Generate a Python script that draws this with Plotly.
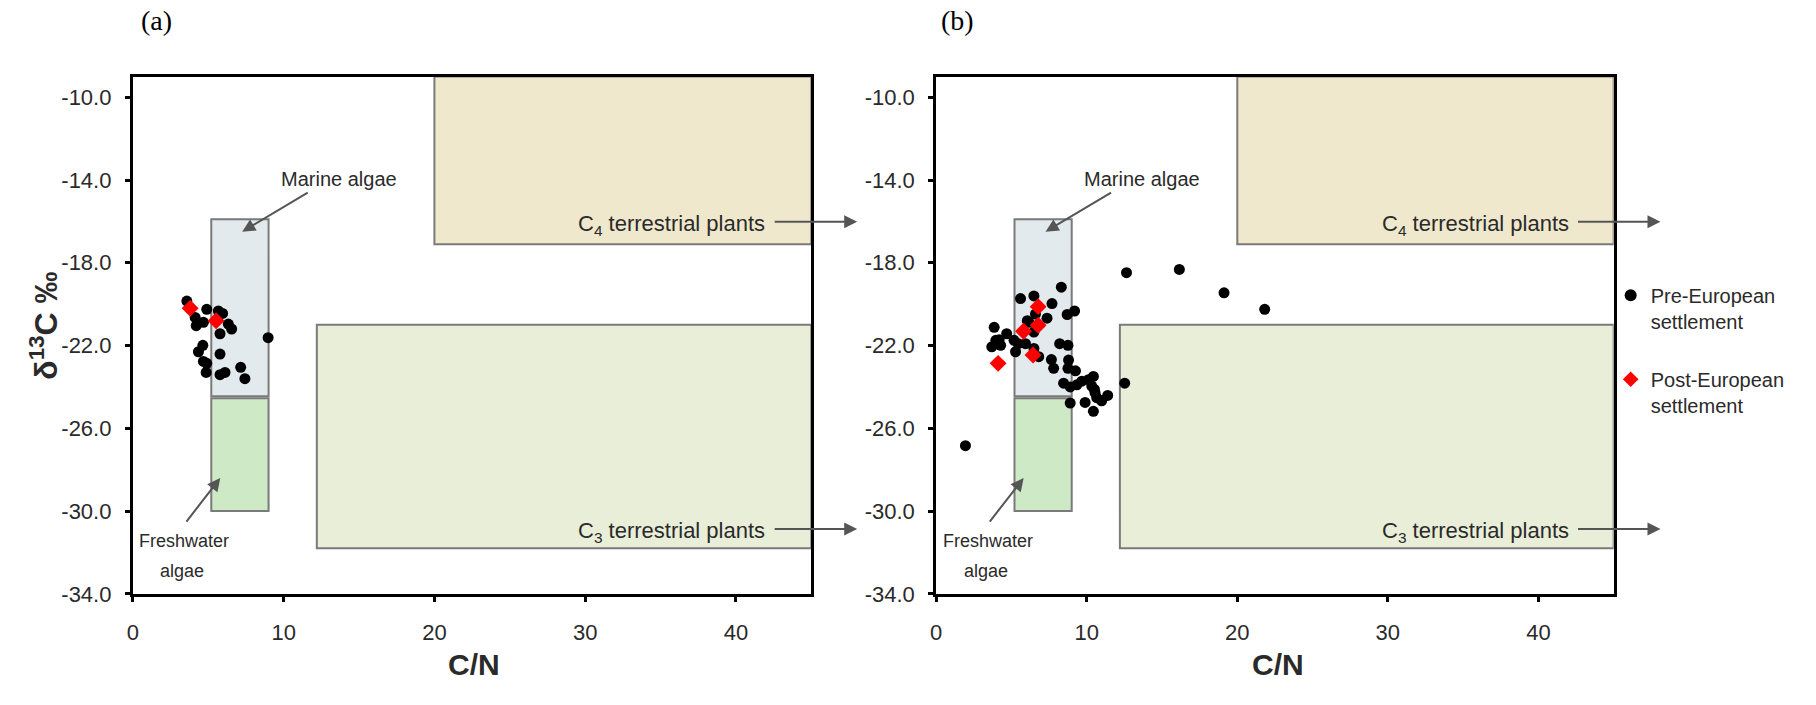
import plotly.graph_objects as go

W, H = 1816, 705

# ---------------- data ----------------
a_pre_cn = [3.58, 4.13, 4.20, 4.90, 5.67, 4.68, 5.78, 6.33, 6.55, 8.97, 4.64,
            4.35, 5.78, 4.68, 4.90, 4.86, 5.78, 6.11, 7.15, 7.43, 5.95]
a_pre_d13c = [-19.85, -20.64, -21.04, -20.25, -20.33, -20.88, -21.43, -20.96, -21.20, -21.62, -21.99,
              -22.30, -22.41, -22.77, -22.86, -23.30, -23.41, -23.30, -23.05, -23.60, -20.45]
a_post_cn = [3.80, 5.52]
a_post_d13c = [-20.20, -20.80]

b_pre_cn = [1.94, 3.85, 3.69, 4.18, 4.68, 4.28, 3.96, 5.17, 5.27, 5.60, 6.49, 7.69, 8.31, 8.70,
            9.19, 7.36, 6.05, 6.59, 6.16, 6.49, 5.45, 5.93, 6.49, 6.81, 8.20, 8.75, 7.65, 7.80,
            8.79, 8.75, 9.25, 8.46, 8.90, 9.34, 8.90, 9.67, 10.11, 10.44, 10.33, 10.51, 9.89,
            10.44, 10.66, 10.99, 11.39, 10.55, 12.52, 12.64, 16.15, 19.12, 21.82]
b_pre_d13c = [-26.84, -21.12, -22.06, -21.72, -21.43, -21.99, -21.75, -21.75, -22.30, -19.73, -19.60,
              -19.97, -19.18, -20.50, -20.33, -20.68, -20.80, -20.48, -20.88, -21.35, -21.91, -21.91,
              -22.14, -22.54, -21.91, -21.99, -22.68, -23.10, -22.70, -23.10, -23.22, -23.82, -24.00,
              -23.90, -24.78, -23.72, -23.65, -23.49, -23.96, -24.12, -24.75, -25.18, -24.52, -24.67,
              -24.41, -24.28, -23.82, -18.48, -18.32, -19.45, -20.25]
b_post_cn = [6.77, 6.77, 5.80, 6.43, 4.11]
b_post_d13c = [-20.12, -21.02, -21.31, -22.46, -22.86]

# source regions: (name, C/N min, C/N max, d13C min, d13C max, fill)
regions = [
    ("C4 terrestrial plants", 20.0, 45.0, -17.1, -9.0, "#EFE8CC"),
    ("C3 terrestrial plants", 12.2, 45.0, -31.8, -21.0, "#E9EED8"),
    ("Marine algae", 5.2, 9.0, -24.45, -15.9, "#E2EAED"),
    ("Freshwater algae", 5.2, 9.0, -30.0, -24.55, "#CDE9C5"),
]

x_ticks = [0, 10, 20, 30, 40]
x_tick_labels = ["0", "10", "20", "30", "40"]
y_ticks = [-10, -14, -18, -22, -26, -30, -34]
y_tick_labels = ["-10.0", "-14.0", "-18.0", "-22.0", "-26.0", "-30.0", "-34.0"]

FONT = "Liberation Sans, Arial, sans-serif"
TXT = "#2a2a2a"
ARROW = "#555555"

fig = go.Figure()

fig.add_trace(go.Scatter(x=a_pre_cn, y=a_pre_d13c, mode="markers", xaxis="x", yaxis="y",
                         marker=dict(color="black", size=11, symbol="circle"),
                         showlegend=False, legendgroup="pre"))
fig.add_trace(go.Scatter(x=a_post_cn, y=a_post_d13c, mode="markers", xaxis="x", yaxis="y",
                         marker=dict(color="#FF0000", size=13, symbol="diamond"),
                         showlegend=False, legendgroup="post"))
fig.add_trace(go.Scatter(x=b_pre_cn, y=b_pre_d13c, mode="markers", xaxis="x2", yaxis="y2",
                         marker=dict(color="black", size=11, symbol="circle"),
                         name="Pre-European<br>settlement", legendgroup="pre"))
fig.add_trace(go.Scatter(x=b_post_cn, y=b_post_d13c, mode="markers", xaxis="x2", yaxis="y2",
                         marker=dict(color="#FF0000", size=13, symbol="diamond"),
                         name="Post-European<br>settlement", legendgroup="post"))

shapes = []
for xr, yr in (("x", "y"), ("x2", "y2")):
    for name, x0, x1, y0, y1, fill in regions:
        shapes.append(dict(type="rect", xref=xr, yref=yr, x0=x0, x1=x1, y0=y0, y1=y1,
                           fillcolor=fill, line=dict(color="#7a7a7a", width=2), layer="below"))


def px(x):
    return x / W


def py(y):
    return 1 - y / H


annotations = []


def text(x, y, s, size=20, xanchor="center", family=FONT, color=TXT, bold=False, angle=0):
    if bold:
        s = "<b>" + s + "</b>"
    annotations.append(dict(x=px(x), y=py(y), xref="paper", yref="paper", text=s, showarrow=False,
                            xanchor=xanchor, yanchor="middle", textangle=angle,
                            font=dict(family=family, size=size, color=color)))


def arrow(tx, ty, hx, hy):
    annotations.append(dict(x=px(hx), y=py(hy), xref="paper", yref="paper", text="",
                            showarrow=True, ax=tx - hx, ay=ty - hy, axref="pixel", ayref="pixel",
                            arrowhead=2, arrowsize=1.3, arrowwidth=2, arrowcolor=ARROW,
                            standoff=0, startstandoff=0))


for dx in (0, 806):
    text(334 + dx, 182, "Marine algae", size=20)
    arrow(304 + dx, 196, 237 + dx, 236)
    text(764 + dx, 229, "C<sub>4</sub> terrestrial plants", size=22, xanchor="right")
    arrow(770 + dx, 226, 854 + dx, 226)
    text(764 + dx, 542, "C<sub>3</sub> terrestrial plants", size=22, xanchor="right")
    arrow(770 + dx, 539, 854 + dx, 539)
    text(179 + dx, 551, "Freshwater", size=18)
    text(177 + dx, 582, "algae", size=18)
    arrow(180 + dx, 532, 215 + dx, 487)
    text(470 + dx, 677, "C/N", size=30, bold=True)

text(151, 21, "(a)", size=28, family="Liberation Serif, Times New Roman, serif", color="black")
text(955, 21, "(b)", size=28, family="Liberation Serif, Times New Roman, serif", color="black")
text(38, 332, "δ<sup>13</sup>C ‰", size=32, bold=True, angle=-90)

xdomA = [127.3 / W, 808 / W]
xdomB = [933.3 / W, 1613 / W]
ydom = [1 - 605 / H, 1 - 78 / H]

axis_common = dict(showline=True, mirror=True, linecolor="black", linewidth=3,
                   ticks="outside", ticklen=5, tickwidth=3, tickcolor="black",
                   showgrid=False, zeroline=False, fixedrange=True,
                   tickfont=dict(family=FONT, size=22, color=TXT))

xcommon = dict(axis_common, range=[0, 45], tickmode="array", tickvals=x_ticks,
               ticktext=x_tick_labels, ticklabelstandoff=12)
ycommon = dict(axis_common, range=[-34, -9], tickmode="array", tickvals=y_ticks,
               ticktext=y_tick_labels, ticklabelstandoff=9)

fig.update_layout(
    width=W, height=H,
    margin=dict(l=0, r=0, t=0, b=0),
    paper_bgcolor="white", plot_bgcolor="white",
    xaxis=dict(xcommon, domain=xdomA, anchor="y"),
    yaxis=dict(ycommon, domain=ydom, anchor="x"),
    xaxis2=dict(xcommon, domain=xdomB, anchor="y2"),
    yaxis2=dict(ycommon, domain=ydom, anchor="x2"),
    shapes=shapes,
    annotations=annotations,
    showlegend=True,
    legend=dict(x=1610 / W, y=1 - 281 / H, xanchor="left", yanchor="top",
                font=dict(family=FONT, size=20, color=TXT), valign="top",
                tracegroupgap=29, bgcolor="rgba(0,0,0,0)", itemsizing="constant"),
)

fig.write_html("out.html")
